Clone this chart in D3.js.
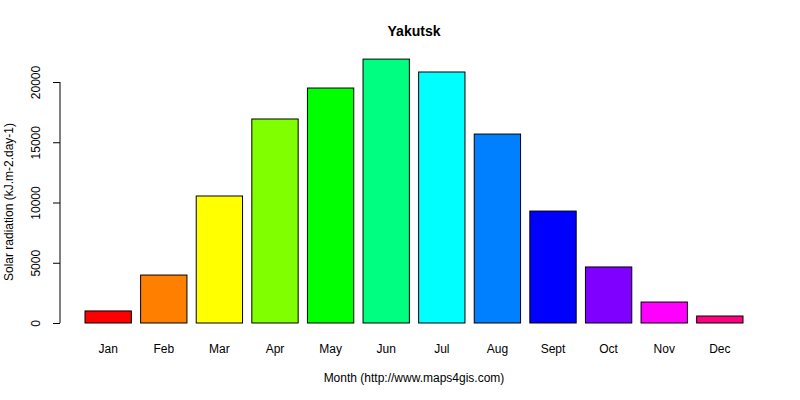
<!DOCTYPE html>
<html><head><meta charset="utf-8">
<script src="https://cdn.jsdelivr.net/npm/d3@7"></script>
<style>body{margin:0;background:#fff}text{font-family:"Liberation Sans",Arial,sans-serif}</style>
</head><body><svg id="c" width="800" height="400"></svg>
<script>
const months = ["Jan","Feb","Mar","Apr","May","Jun","Jul","Aug","Sept","Oct","Nov","Dec"];
const values = [1000,3980,10540,16930,19500,21900,20830,15680,9290,4650,1740,580];
const colors = ["#FF0000","#FF8000","#FFFF00","#80FF00","#00FF00","#00FF80","#00FFFF","#0080FF","#0000FF","#8000FF","#FF00FF","#FF0080"];
const yTicks = [0,5000,10000,15000,20000];

const svg = d3.select("#c");
const x = d3.scaleBand().domain(months).range([85,743]).paddingInner(1/6).paddingOuter(0);
const y = d3.scaleLinear().domain([0,20000]).range([323,82]);

svg.selectAll("rect.bar").data(values).enter().append("rect")
  .attr("x",(d,i)=>x(months[i])).attr("width",x.bandwidth())
  .attr("y",d=>y(d)).attr("height",d=>y(0)-y(d))
  .attr("fill",(d,i)=>colors[i]).attr("stroke","#000").attr("stroke-width",1);

const ya = svg.append("g").attr("transform","translate(60,0)")
  .call(d3.axisLeft(y).tickValues(yTicks).tickSize(7).tickFormat(d3.format("d")));
ya.select(".domain").attr("d","M0,"+y(0)+"V"+y(20000));
ya.selectAll(".tick text").attr("x",0).attr("dy",null)
  .attr("transform","translate(-20,0) rotate(-90)")
  .attr("text-anchor","middle").style("font-size","12px").attr("fill","#000");

svg.selectAll("text.m").data(months).enter().append("text")
  .attr("x",d=>x(d)+x.bandwidth()/2).attr("y",353).attr("text-anchor","middle")
  .style("font-size","12px").text(d=>d);

svg.append("text").attr("x",414).attr("y",36).attr("text-anchor","middle")
  .style("font-size","14px").style("font-weight","bold").text("Yakutsk");
svg.append("text").attr("x",414).attr("y",382).attr("text-anchor","middle")
  .style("font-size","12px").text("Month (http://www.maps4gis.com)");
svg.append("text").attr("transform","translate(13,202) rotate(-90)").attr("text-anchor","middle")
  .style("font-size","12px").text("Solar radiation (kJ.m-2.day-1)");
</script></body></html>
